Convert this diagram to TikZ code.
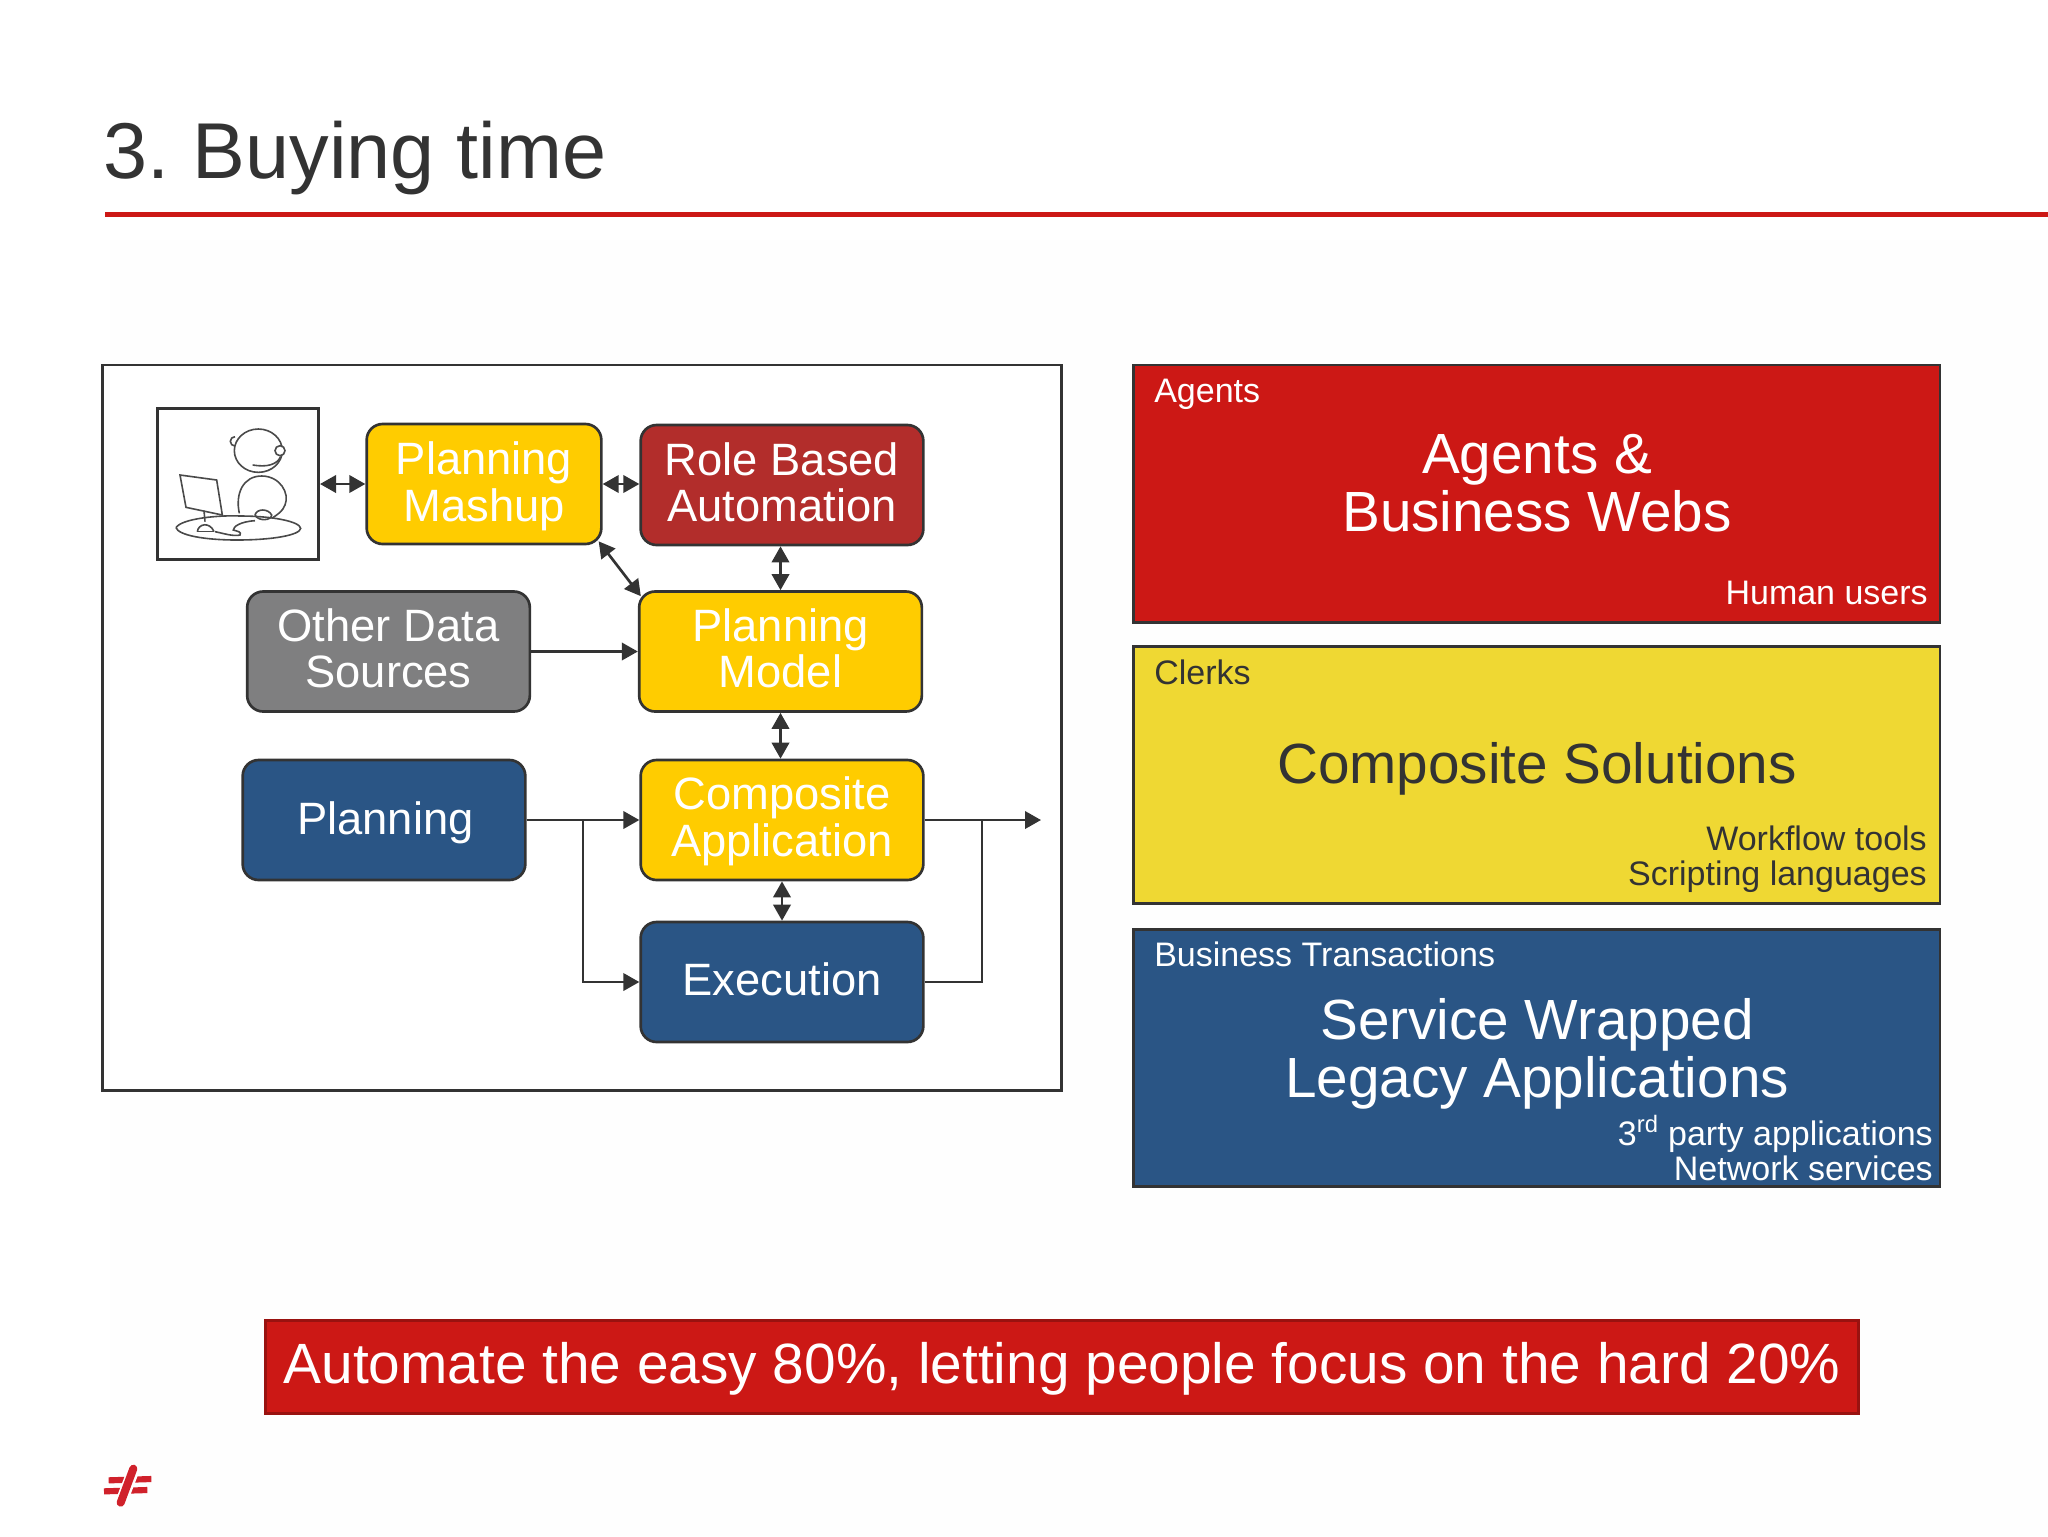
\documentclass[tikz,border=0pt]{standalone}
\usepackage{fontspec}
\setmainfont{Liberation Sans}
\usetikzlibrary{arrows.meta,calc}
\definecolor{inkc}{HTML}{333333}
\definecolor{redc}{HTML}{CC1815}
\definecolor{yelc}{HTML}{FFCC00}
\definecolor{panely}{HTML}{EFD833}
\definecolor{bluec}{HTML}{2A5585}
\definecolor{grayc}{HTML}{7F7F80}
\definecolor{rolec}{HTML}{B22D2B}
\definecolor{bgc}{HTML}{FEFEFE}
\definecolor{sketchc}{HTML}{4A4A4A}
\definecolor{logoc}{HTML}{D0212B}
\tikzset{
  flowbox/.style={draw=inkc,line width=2pt,rounded corners=12pt,minimum width=212pt,minimum height=90pt,inner sep=0pt},
  flowtext/.style={inner sep=0pt,align=center,text=white,font=\fontsize{34}{35}\selectfont},
  panel/.style={draw=inkc,line width=2pt,minimum width=605pt,minimum height=193pt,inner sep=0pt},
  smalll/.style={anchor=base west,inner sep=0pt,font=\fontsize{25.5}{26}\selectfont},
  smallr/.style={anchor=base east,inner sep=0pt,font=\fontsize{25.5}{26}\selectfont},
  bigt/.style={anchor=base,inner sep=0pt,font=\fontsize{42.5}{43}\selectfont},
  link/.style={draw=inkc,line width=2pt},
  arr/.style={link,-{Triangle[length=12pt,width=13pt]}},
  darr/.style={link,{Triangle[length=12pt,width=13pt]}-{Triangle[length=12pt,width=13pt]}},
  sketch/.style={draw=sketchc,line width=1.2pt},
}
\begin{document}
\begin{tikzpicture}[x=0.75pt,y=-0.75pt]
\useasboundingbox (0,0) rectangle (2048,1536);
\fill[white] (0,0) rectangle (2048,1536);
\fill[bgc] (110,240) rectangle (2048,1536);
% title
\node[anchor=base west,inner sep=0pt,text=inkc,font=\fontsize{59.4}{60}\selectfont] (title) at (103,178) {3.\kern-4.5pt{} Buying time};
\fill[redc] (105,211.5) rectangle (2048,216.5);
% left frame
\node[draw=inkc,line width=2pt,fill=white,minimum width=719pt,minimum height=544pt,inner sep=0pt] (frame) at (582,727.5) {};
% avatar
\node[draw=inkc,line width=2pt,fill=white,minimum width=121pt,minimum height=113pt,inner sep=0pt] (avatar) at (238,484) {};
\begin{scope}[shift={(140,390)},x=0.25pt,y=-0.25pt]
  \draw[sketch] (355,182) circle[x radius=72,y radius=65];
  \draw[sketch] (285,168) arc[start angle=90,end angle=270,radius=14];
  \draw[sketch,fill=white] (420,182) circle[radius=15];
  \draw[sketch] (422,200) .. controls (410,225) and (380,232) .. (338,225);
  \draw[sketch] (298,370) .. controls (285,310) and (310,258) .. (365,258) .. controls (420,258) and (450,310) .. (435,345) .. controls (428,365) and (410,375) .. (395,385);
  \draw[sketch] (108,413) .. controls (125,385) and (240,375) .. (300,378) .. controls (400,378) and (480,395) .. (482,415) .. controls (480,435) and (400,450) .. (290,450) .. controls (190,450) and (115,435) .. (108,413);
  \draw[sketch,fill=white] (120,255) -- (230,270) -- (247,375) -- (138,352) -- cycle;
  \draw[sketch] (192,362) -- (195,395);
  \draw[sketch] (172,425) .. controls (175,400) and (210,395) .. (222,425);
  \draw[sketch] (172,425) -- (222,425);
  \draw[sketch] (345,375) .. controls (350,355) and (385,355) .. (395,375) .. controls (395,392) and (355,395) .. (345,375);
  \draw[sketch] (345,392) .. controls (300,395) and (280,410) .. (280,420) .. controls (295,425) and (305,425) .. (300,435) .. controls (280,440) and (250,430) .. (225,425);
\end{scope}
% flow boxes
\node[flowbox,fill=yelc,minimum width=176pt,label={[flowtext,name=mashupt,yshift=-1.5pt]center:{Planning\\Mashup}}] (mashup) at (484,484) {};
\node[flowbox,fill=rolec,label={[flowtext,name=rolet,yshift=2pt]center:{Role Based\\Automation}}] (role) at (782,485) {};
\node[flowbox,fill=grayc,label={[flowtext,name=othert,yshift=2.5pt]center:{Other Data\\Sources}}] (other) at (388.5,651.5) {};
\node[flowbox,fill=yelc,label={[flowtext,name=modelt,yshift=2.5pt]center:{Planning\\Model}}] (model) at (780.5,651.5) {};
\node[flowbox,fill=bluec,label={[flowtext,name=plant,yshift=-2pt,xshift=1pt]center:{Planning}}] (plan) at (384,820) {};
\node[flowbox,fill=yelc,label={[flowtext,name=compt,yshift=-1pt]center:{Composite\\Application}}] (comp) at (782,820) {};
\node[flowbox,fill=bluec,label={[flowtext,name=exect,yshift=2pt]center:{Execution}}] (exec) at (782,982) {};
% connectors
\coordinate (j1) at (583,820);
\coordinate (j2) at (982,820);
\coordinate (out) at (1041,820);
\draw[darr] (avatar.east |- mashup.west) -- (mashup.west);
\draw[darr] (mashup.east) -- (role.west |- mashup.east);
\draw[darr] ($(mashup.south east)+(-4,-4)$) -- ($(model.north west)+(3,6)$);
\draw[darr] (role.south -| model.north) -- (model.north);
\draw[darr] (model.south) -- (model.south |- comp.north);
\draw[darr] (comp.south) -- (exec.north);
\draw[arr] (other.east) -- (model.west);
\draw[arr] (plan.east) -- (comp.west);
\draw[arr] (j1) |- (exec.west);
\draw[arr] (comp.east) -- (out);
\draw[link] (exec.east) -| (j2);
% right panels
\node[panel,fill=redc] (p1) at (1536.5,493.5) {};
\node[panel,fill=panely] (p2) at (1536.5,775) {};
\node[panel,fill=bluec] (p3) at (1536.5,1058) {};
\node[smalll,text=white] (p1a) at (1154,402) {Agents};
\node[bigt,text=white] (p1b) at (1537,473) {Agents \&};
\node[bigt,text=white] (p1c) at (1537,531) {Business Webs};
\node[smallr,text=white] (p1d) at (1928,604) {Human users};
\node[smalll,text=inkc] (p2a) at (1154,684) {Clerks};
\node[bigt,text=inkc] (p2b) at (1537,783) {Composite Solutions};
\node[smallr,text=inkc] (p2c) at (1927,850) {Workflow tools};
\node[smallr,text=inkc] (p2d) at (1927,885) {Scripting languages};
\node[smalll,text=white] (p3a) at (1154,966) {Business Transactions};
\node[bigt,text=white] (p3b) at (1537,1039) {Service Wrapped};
\node[bigt,text=white] (p3c) at (1537,1097) {Legacy Applications};
\node[smallr,text=white] (p3d) at (1933,1145) {3\textsuperscript{rd} party applications};
\node[smallr,text=white] (p3e) at (1933,1180) {Network services};
% banner
\node[draw=black!25!redc,line width=2pt,fill=redc,minimum width=1195pt,minimum height=70pt,inner sep=0pt,label={[name=bannert,inner sep=0pt,text=white,font=\fontsize{42.6}{44}\selectfont,yshift=-1.5pt]center:{Automate the easy 80\%, letting people focus on the hard 20\%}}] (banner) at (1062,1367) {};
% logo
\begin{scope}[shift={(80,1430)},x=0.25pt,y=-0.25pt]
  \draw[logoc,line width=4.6pt] (86,151) -- (214,147);
  \draw[logoc,line width=4.6pt] (72,184) -- (202,180);
  \draw[white,line width=9pt] (165,108) -- (120,226);
  \draw[logoc,line width=6pt,line cap=round] (160,116) -- (122,218);
\end{scope}
\end{tikzpicture}
\end{document}
